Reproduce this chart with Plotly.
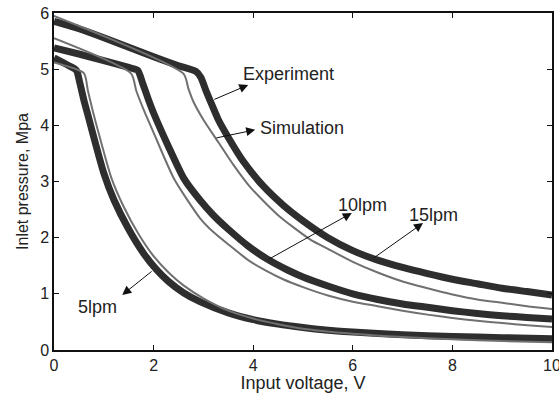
import plotly.graph_objects as go

# Input voltage (V) / inlet pressure (MPa) read-outs for each flow rate
exp_15_v = [0, 0.5, 1.0, 1.5, 2.0, 2.5, 2.85, 2.95, 3.05, 3.13, 3.3, 3.53, 3.8, 4.2, 4.6, 5.0, 5.5, 6.0, 6.5, 7.0, 7.5, 8.0, 8.5, 9.0, 9.5, 10.0]
exp_15_p = [5.85, 5.72, 5.56, 5.39, 5.22, 5.06, 4.96, 4.85, 4.62, 4.45, 4.1, 3.74, 3.36, 2.92, 2.58, 2.3, 2.0, 1.77, 1.6, 1.47, 1.36, 1.26, 1.18, 1.1, 1.04, 0.98]

sim_15_v = [0, 2.6, 2.7, 2.8, 3.0, 3.3, 3.6, 3.94, 4.5, 5.14, 5.5, 6.0, 6.5, 7.0, 7.5, 8.0, 8.5, 9.0, 9.5, 10.0]
sim_15_p = [5.95, 4.92, 4.65, 4.42, 4.1, 3.7, 3.3, 2.9, 2.4, 1.97, 1.8, 1.57, 1.38, 1.22, 1.1, 0.99, 0.9, 0.84, 0.78, 0.73]

exp_10_v = [0, 0.5, 1.0, 1.5, 1.68, 1.78, 1.9, 2.0, 2.3, 2.61, 2.93, 3.2, 3.5, 3.9, 4.28, 4.7, 5.0, 5.5, 6.0, 6.5, 7.0, 7.5, 8.0, 8.5, 9.0, 9.5, 10.0]
exp_10_p = [5.38, 5.27, 5.15, 5.03, 4.98, 4.75, 4.45, 4.22, 3.62, 3.05, 2.67, 2.4, 2.15, 1.85, 1.62, 1.42, 1.3, 1.14, 1.0, 0.9, 0.82, 0.76, 0.7, 0.65, 0.61, 0.58, 0.55]

sim_10_v = [0, 1.55, 1.65, 1.8, 2.0, 2.41, 2.93, 3.2, 3.5, 3.9, 4.2, 4.6, 5.0, 5.5, 6.0, 6.5, 7.0, 7.5, 8.0, 8.5, 9.0, 9.5, 10.0]
sim_10_p = [5.55, 4.92, 4.62, 4.28, 3.87, 3.05, 2.35, 2.1, 1.88, 1.6, 1.44, 1.26, 1.12, 0.97, 0.86, 0.78, 0.7, 0.63, 0.57, 0.52, 0.48, 0.44, 0.41]

exp_5_v = [0, 0.3, 0.45, 0.52, 0.6, 0.7, 0.85, 1.0, 1.2, 1.5, 1.8, 2.05, 2.3, 2.6, 2.93, 3.5, 4.0, 4.5, 5.0, 5.5, 6.0, 7.0, 8.0, 9.0, 10.0]
exp_5_p = [5.2, 5.06, 4.98, 4.75, 4.45, 4.12, 3.62, 3.15, 2.68, 2.15, 1.72, 1.44, 1.22, 1.02, 0.86, 0.66, 0.54, 0.46, 0.4, 0.35, 0.32, 0.27, 0.24, 0.22, 0.2]

sim_5_v = [0, 0.6, 0.68, 0.78, 0.9, 1.15, 1.4, 1.7, 2.0, 2.3, 2.6, 3.0, 3.5, 4.0, 4.5, 5.0, 6.0, 7.0, 8.0, 9.0, 10.0]
sim_5_p = [5.12, 4.93, 4.62, 4.25, 3.85, 3.07, 2.55, 2.06, 1.67, 1.38, 1.15, 0.92, 0.7, 0.56, 0.46, 0.38, 0.29, 0.23, 0.19, 0.16, 0.14]

x_ticks = [0, 2, 4, 6, 8, 10]
y_ticks = [0, 1, 2, 3, 4, 5, 6]

FONT = "Liberation Sans, Arial, sans-serif"
TXT = "#222222"
EXP_COLOR = "#2e2e2e"
SIM_COLOR = "#707070"

fig = go.Figure()

experiments = [(exp_15_v, exp_15_p), (exp_10_v, exp_10_p), (exp_5_v, exp_5_p)]
simulations = [(sim_15_v, sim_15_p), (sim_10_v, sim_10_p), (sim_5_v, sim_5_p)]

# measured data: dense dark band
for xv, yv in experiments:
    fig.add_trace(go.Scatter(x=xv, y=yv, mode="lines",
                             line=dict(color=EXP_COLOR, width=7, shape="spline", smoothing=0.6),
                             showlegend=False, hoverinfo="skip"))

# model output: thin grey line
for xv, yv in simulations:
    fig.add_trace(go.Scatter(x=xv, y=yv, mode="lines",
                             line=dict(color=SIM_COLOR, width=2, shape="spline", smoothing=0.6),
                             showlegend=False, hoverinfo="skip"))

# labelled arrows: (text, text x, text y, head x, head y, tail x, tail y)
labels = [
    ("Experiment", 4.7, 4.91, 3.9, 4.72, 3.19, 4.45),
    ("Simulation", 4.97, 3.95, 4.04, 3.92, 3.23, 3.77),
    ("10lpm", 6.2, 2.58, 5.98, 2.44, 4.28, 1.6),
    ("15lpm", 7.62, 2.4, 7.41, 2.26, 6.39, 1.62),
    ("5lpm", 0.87, 0.77, 1.37, 0.98, 1.99, 1.42),
]
for text, tx, ty, hx, hy, sx, sy in labels:
    fig.add_annotation(x=hx, y=hy, ax=sx, ay=sy, xref="x", yref="y", axref="x", ayref="y",
                       text="", showarrow=True, arrowhead=2, arrowsize=1.8, arrowwidth=1,
                       arrowcolor="#111111")
    fig.add_annotation(x=tx, y=ty, xref="x", yref="y", text=text, showarrow=False,
                       font=dict(family=FONT, size=18, color=TXT))

axis_common = dict(showline=True, linecolor="#111111", linewidth=1.5, mirror="ticks",
                   ticks="inside", ticklen=5, tickwidth=1, tickcolor="#111111",
                   showgrid=False, zeroline=False, automargin=False,
                   ticklabeloverflow="allow",
                   tickfont=dict(family=FONT, size=16, color=TXT))

fig.update_xaxes(range=[0, 10], tickvals=x_ticks, ticktext=[str(v) for v in x_ticks],
                 title=dict(text="Input voltage, V", font=dict(family=FONT, size=18, color=TXT), standoff=1),
                 **axis_common)
fig.update_yaxes(range=[0, 6], tickvals=y_ticks, ticktext=[str(v) for v in y_ticks],
                 title=dict(text="Inlet pressure, Mpa", font=dict(family=FONT, size=16, color=TXT), standoff=8),
                 **axis_common)

fig.update_layout(width=559, height=393, margin=dict(l=54, r=7, t=13, b=43),
                  paper_bgcolor="white", plot_bgcolor="white")

fig.write_html("out.html")
